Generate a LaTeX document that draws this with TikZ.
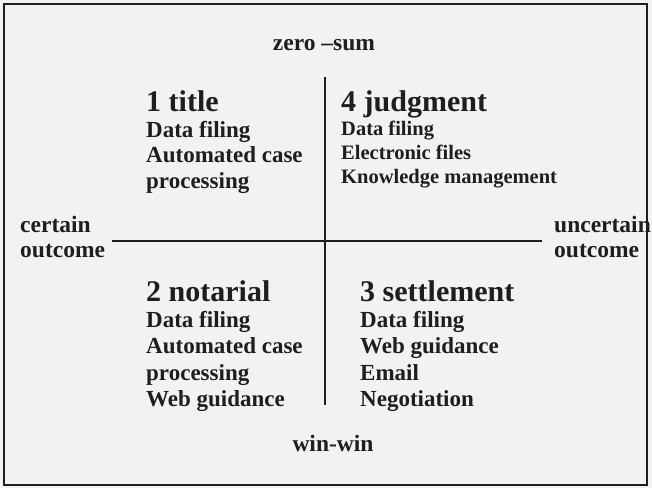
\documentclass[tikz,border=0pt]{standalone}
\usepackage{fontspec}
\setmainfont{Liberation Serif}
\usetikzlibrary{positioning}
\definecolor{paper}{HTML}{F2F2F2}
\definecolor{ink}{HTML}{1E1E1E}

\begin{document}
\begin{tikzpicture}[
    x=1pt, y=-1pt,
    % Define styles for the different kinds of text
    head/.style={
        font=\bfseries\fontsize{30}{36}\selectfont,
        text=ink,
        inner sep=0pt,
        text height=21pt,
        text depth=7pt
    },
    item/.style={
        font=\bfseries\fontsize{23}{27}\selectfont,
        text=ink,
        inner sep=0pt,
        text height=16pt,
        text depth=5pt
    },
    smallitem/.style={
        font=\bfseries\fontsize{20.5}{24}\selectfont,
        text=ink,
        inner sep=0pt,
        text height=14.5pt,
        text depth=4.5pt
    },
    axislabel/.style={
        font=\bfseries\fontsize{23.5}{28}\selectfont,
        text=ink,
        inner sep=0pt
    },
    axis/.style={
        draw=ink,
        line width=1.5pt
    }
]
\useasboundingbox (0,0) rectangle (652,488);
\fill[paper] (0,0) rectangle (652,488);

% Frame
\draw[draw=ink, line width=2pt] (4,4) rectangle (647,485);

% Axes
\coordinate (west) at (112,241);
\coordinate (east) at (542,241);
\coordinate (north) at (325,77);
\coordinate (south) at (325,405);
\draw[axis] (west) -- (east);
\draw[axis] (north) -- (south);

% Axis labels
\node[axislabel, anchor=base] (zerosum) at (324,50) {zero –sum};
\node[axislabel, anchor=base] (winwin) at (333,451) {win-win};
\node[axislabel, anchor=base west] (certain) at (20,232) {certain};
\node[axislabel, anchor=base west] (certainout) at (20,257) {outcome};
\node[axislabel, anchor=base west] (uncertain) at (554,232) {uncertain};
\node[axislabel, anchor=base west] (uncertainout) at (554,257) {outcome};

% Quadrant 1
\node[head, anchor=base west] (title) at (146,111) {1 title};
\node[item, below=3pt of title.south west, anchor=north west] (title1) {Data filing};
\node[item, below=4pt of title1.south west, anchor=north west] (title2) {Automated case};
\node[item, below=4pt of title2.south west, anchor=north west] (title3) {processing};

% Quadrant 4
\node[head, anchor=base west] (judgment) at (341,111) {4 judgment};
\node[smallitem, below=2.5pt of judgment.south west, anchor=north west] (judgment1) {Data filing};
\node[smallitem, below=4.5pt of judgment1.south west, anchor=north west] (judgment2) {Electronic files};
\node[smallitem, below=4.5pt of judgment2.south west, anchor=north west] (judgment3) {Knowledge management};

% Quadrant 2
\node[head, anchor=base west] (notarial) at (146,301) {2 notarial};
\node[item, below=3pt of notarial.south west, anchor=north west] (notarial1) {Data filing};
\node[item, below=5pt of notarial1.south west, anchor=north west] (notarial2) {Automated case};
\node[item, below=5pt of notarial2.south west, anchor=north west] (notarial3) {processing};
\node[item, below=5pt of notarial3.south west, anchor=north west] (notarial4) {Web guidance};

% Quadrant 3
\node[head, anchor=base west] (settlement) at (360,301) {3 settlement};
\node[item, below=3pt of settlement.south west, anchor=north west] (settlement1) {Data filing};
\node[item, below=5pt of settlement1.south west, anchor=north west] (settlement2) {Web guidance};
\node[item, below=5pt of settlement2.south west, anchor=north west] (settlement3) {Email};
\node[item, below=5pt of settlement3.south west, anchor=north west] (settlement4) {Negotiation};

\end{tikzpicture}
\end{document}
